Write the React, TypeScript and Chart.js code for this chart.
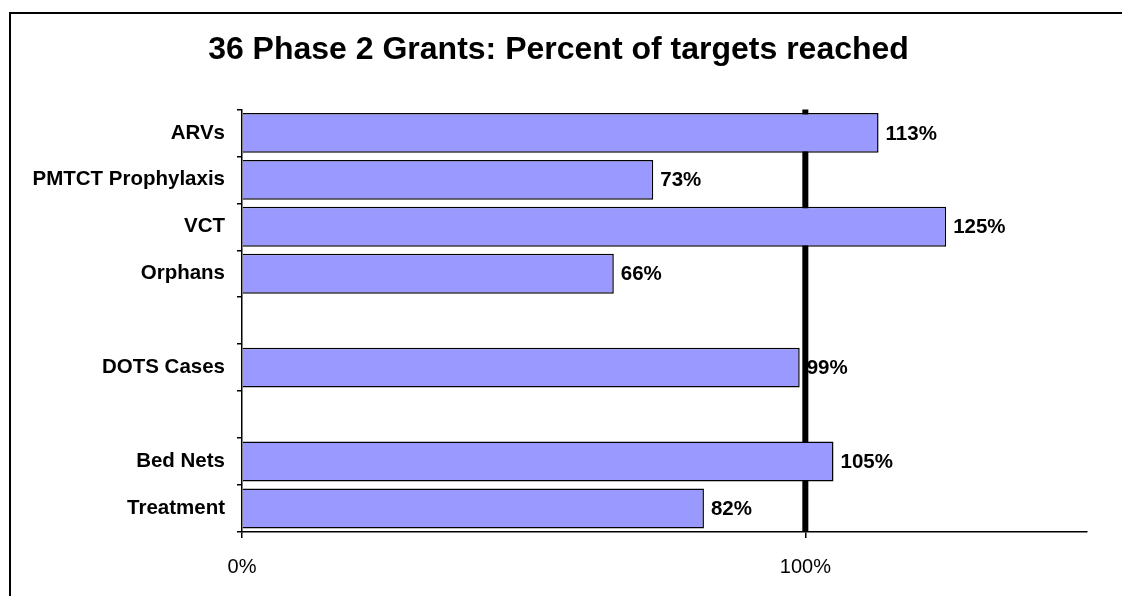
import React, { useEffect, useRef } from "react";
import { Chart, registerables } from "chart.js";

Chart.register(...registerables);

const categories: string[] = [
  "ARVs",
  "PMTCT Prophylaxis",
  "VCT",
  "Orphans",
  "",
  "DOTS Cases",
  "",
  "Bed Nets",
  "Treatment",
];
const percentReached: (number | null)[] = [113, 73, 125, 66, null, 99, null, 105, 82];
const xTickValues: number[] = [0, 100];
const targetLine: number[] = [100];
const titleText = "36 Phase 2 Grants: Percent of targets reached";

const FONT = "'Liberation Sans', Arial, Helvetica, sans-serif";

const targetLinePlugin = {
  id: "targetLine",
  beforeDatasetsDraw(chart: any) {
    const { ctx, chartArea, scales } = chart;
    ctx.save();
    ctx.strokeStyle = "#000";
    ctx.lineWidth = 6;
    targetLine.forEach((v) => {
      const x = scales.x.getPixelForValue(v);
      ctx.beginPath();
      ctx.moveTo(x, chartArea.top);
      ctx.lineTo(x, chartArea.bottom);
      ctx.stroke();
    });
    ctx.restore();
  },
};

const valueLabelPlugin = {
  id: "valueLabels",
  afterDatasetsDraw(chart: any) {
    const { ctx } = chart;
    const meta = chart.getDatasetMeta(0);
    ctx.save();
    ctx.fillStyle = "#000";
    ctx.font = `bold 20.5px ${FONT}`;
    ctx.textAlign = "left";
    ctx.textBaseline = "middle";
    meta.data.forEach((bar: any, i: number) => {
      const v = percentReached[i];
      if (v === null || v === undefined) return;
      ctx.fillText(`${v}%`, bar.x + 7, bar.y + 1);
    });
    ctx.restore();
  },
};

export default function App() {
  const canvasRef = useRef<HTMLCanvasElement | null>(null);

  useEffect(() => {
    if (!canvasRef.current) return;
    const chart = new Chart(canvasRef.current, {
      type: "bar",
      data: {
        labels: categories,
        datasets: [
          {
            data: percentReached,
            backgroundColor: "#9999FF",
            borderColor: "#000000",
            borderWidth: 1.5,
            categoryPercentage: 1,
            barPercentage: 0.85,
          },
        ],
      },
      options: {
        indexAxis: "y",
        animation: false,
        responsive: false,
        maintainAspectRatio: false,
        layout: { padding: { left: 22, right: 35, top: 0, bottom: 0 } },
        plugins: {
          legend: { display: false },
          tooltip: { enabled: false },
          title: {
            display: true,
            text: titleText,
            color: "#000",
            font: { family: FONT, size: 32, weight: "bold" },
            padding: { top: 23, bottom: 40 },
          },
        },
        scales: {
          x: {
            type: "linear",
            min: 0,
            max: 150,
            afterFit: (scale: any) => {
              scale.height = 56;
            },
            afterBuildTicks: (scale: any) => {
              scale.ticks = xTickValues.map((v) => ({ value: v }));
            },
            ticks: {
              color: "#000",
              padding: 17,
              font: { family: FONT, size: 20 },
              callback: (v: any) => `${v}%`,
            },
            grid: {
              drawOnChartArea: false,
              drawTicks: true,
              tickLength: 6,
              color: "#000",
              lineWidth: 1.5,
            },
            border: { display: true, color: "#000", width: 1.5 },
          },
          y: {
            type: "category",
            afterFit: (scale: any) => {
              scale.width = 212;
            },
            ticks: {
              color: "#000",
              padding: 12,
              font: { family: FONT, size: 20.5, weight: "bold" },
              autoSkip: false,
            },
            grid: {
              drawOnChartArea: false,
              drawTicks: true,
              tickLength: 5,
              color: "#000",
              lineWidth: 1.5,
              offset: true,
            },
            border: { display: true, color: "#000", width: 1.5 },
          },
        },
      },
      plugins: [targetLinePlugin, valueLabelPlugin],
    } as any);
    return () => chart.destroy();
  }, []);

  return (
    <div
      style={{
        position: "relative",
        width: 1114,
        height: 580,
        background: "#fff",
      }}
    >
      <div
        style={{
          position: "fixed",
          left: 9,
          top: 12,
          width: 1300,
          height: 800,
          border: "2px solid #000",
          boxSizing: "border-box",
          pointerEvents: "none",
        }}
      />
      <canvas
        ref={canvasRef}
        width={1114}
        height={580}
        style={{ position: "absolute", left: 0, top: 0, display: "block" }}
      />
    </div>
  );
}
